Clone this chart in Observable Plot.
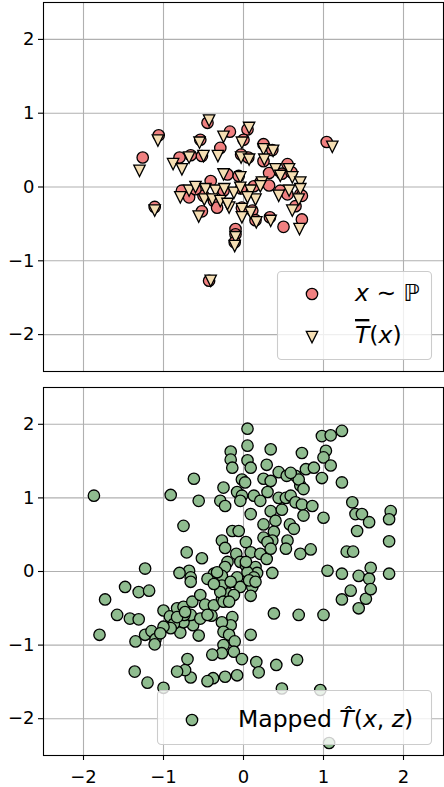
<!DOCTYPE html>
<html><head><meta charset="utf-8">
<script src="https://cdn.jsdelivr.net/npm/d3@7"></script>
<script src="https://cdn.jsdelivr.net/npm/@observablehq/plot@0.6"></script>
<style>
html,body{margin:0;padding:0;background:#fff;}
#wrap{position:relative;width:444px;height:787px;overflow:hidden;background:#fff;}
#wrap > svg{display:block;}
#wrap > svg.panel text{font-size:18px !important;font-family:'DejaVu Sans',sans-serif !important;fill:black;}
#overlay{position:absolute;left:0;top:0;pointer-events:none;}
</style></head><body><div id="wrap"></div>
<script>
// ---- tick values and labels ----
const xTicks = [-2, -1, 0, 1, 2];
const xTickLabels = ["−2", "−1", "0", "1", "2"];
const yTicks = [-2, -1, 0, 1, 2];
const yTickLabels = ["−2", "−1", "0", "1", "2"];

// ---- top panel: samples x ~ P ----
const pX = [-1.26,-1.06,-1.11,-0.45,-0.43,-0.17,-0.54,0.05,0.00,-0.29,
0.25,0.36,-0.52,-0.66,-0.80,-0.03,0.06,0.25,0.32,0.55,
0.48,0.71,-0.20,-0.06,0.21,-0.41,-0.77,-0.68,-0.50,-0.37,
-0.03,0.13,-0.02,0.11,0.15,0.33,0.50,0.73,0.65,0.46,
-0.10,-0.10,-0.11,-0.52,1.04,-0.60,0.60,0.73,-0.25,0.32,
-0.33,0.55];
const pY = [0.40,0.70,-0.27,0.87,-1.27,0.75,0.64,0.78,0.64,0.53,
0.58,0.50,0.42,0.43,0.40,0.44,0.40,0.35,0.19,0.31,
0.18,-0.10,0.17,0.15,0.06,0.08,-0.05,-0.14,-0.12,-0.19,
-0.02,0.01,-0.28,-0.32,-0.45,-0.41,-0.54,-0.44,-0.26,-0.05,
-0.57,-0.64,-0.75,-0.33,0.61,-0.03,0.20,-0.12,-0.05,0.02,
-0.28,-0.10];

// ---- top panel: T-bar(x) ----
const tX = [-1.30,-1.07,-1.11,-0.43,-0.41,-0.25,-0.55,0.07,-0.02,-0.32,
0.25,0.37,-0.50,-0.68,-0.88,-0.77,-0.03,0.07,0.26,0.40,
0.46,0.57,0.61,0.71,0.71,-0.25,-0.04,0.23,-0.79,-0.68,
-0.60,-0.475,-0.35,-0.49,-0.39,-0.29,-0.18,-0.24,-0.12,-0.04,
0.09,0.15,0.05,0.21,0.44,0.57,0.69,0.61,0.70,0.34,
0.16,0.09,-0.02,-0.02,-0.10,-0.11,-0.56,1.11,-0.20];
const tY = [0.22,0.63,-0.32,0.90,-1.27,0.68,0.60,0.80,0.60,0.42,
0.51,0.49,0.42,0.40,0.31,0.24,0.40,0.37,0.37,0.24,
0.15,0.24,0.13,0.06,-0.03,0.17,0.13,0.06,-0.14,-0.05,
0.00,-0.03,-0.05,-0.17,-0.17,-0.19,-0.28,-0.03,-0.08,-0.01,
-0.05,-0.17,-0.14,0.01,-0.12,-0.05,-0.17,-0.32,-0.57,-0.46,
-0.48,-0.35,-0.30,-0.41,-0.68,-0.80,-0.40,0.545,-0.23];

// ---- bottom panel: mapped T-hat(x, z) ----
const mX = [0.05,1.23,0.98,1.09,0.05,-0.16,0.34,0.73,1.03,1.00,
-0.16,0.05,-0.14,0.09,0.29,1.09,-0.62,-0.02,0.02,0.25,
0.44,0.54,0.65,0.78,0.88,0.98,1.23,0.34,0.71,0.69,
0.59,-0.25,-0.08,-0.02,-0.04,-0.29,-0.23,0.13,0.21,0.30,
0.44,0.53,0.59,0.65,0.75,0.73,0.86,0.34,0.48,0.75,
1.00,0.09,-0.56,-0.91,-1.87,1.36,1.40,1.48,1.57,1.42,
1.84,1.82,0.25,0.40,0.58,0.38,0.63,0.25,0.36,0.55,
0.53,0.71,0.84,0.30,-0.14,-0.06,-0.27,-0.23,0.03,-0.09,
0.09,0.21,0.29,-0.20,-0.23,-0.04,0.03,0.15,0.17,0.36,
0.05,0.13,-0.27,-0.12,-0.08,0.11,-0.04,0.09,-0.37,-0.45,
-0.52,-0.71,-0.75,1.82,1.29,1.37,1.05,1.23,1.44,1.59,
1.57,1.82,1.34,1.23,1.53,1.44,1.59,1.00,0.69,0.38,
0.09,-1.23,-1.48,-1.31,-1.18,-1.73,-1.58,-1.42,-1.31,-1.80,
-1.23,-1.15,-1.10,-1.35,-1.11,-1.00,-0.92,-0.83,-0.75,-0.64,
-0.54,-0.48,-0.37,-0.40,-0.27,-0.20,-0.12,-0.27,-0.29,-0.14,
-0.16,-0.27,-0.25,-0.18,-0.11,-0.25,-0.27,-0.39,-0.12,-0.02,
0.16,0.19,0.41,0.67,-0.08,-0.23,-0.38,-0.45,-0.66,-0.73,
-0.70,-0.83,-1.00,-1.36,-1.20,-0.79,-0.63,-0.56,-0.75,-0.87,
-0.91,-1.00,-1.04,-0.66,-0.74,-0.83,0.48,0.96,1.07,-0.54,
-0.45,-0.25,0.07,-0.68,-0.66,-0.33,-0.37,-0.16,0.34,0.03,
0.15,-0.73,-0.18,-0.80,-0.66];
const mY = [1.94,1.91,1.84,1.85,1.71,1.63,1.66,1.61,1.64,1.55,
1.52,1.51,1.41,1.41,1.45,1.44,1.26,1.25,1.21,1.26,
1.35,1.30,1.30,1.39,1.41,1.27,1.21,1.23,1.17,1.25,
1.34,1.14,1.08,1.03,0.96,0.96,0.89,1.03,0.96,1.08,
1.00,1.00,1.03,0.94,1.12,0.91,0.89,0.82,0.84,0.76,
0.73,0.78,0.96,1.04,1.03,0.94,0.78,0.78,0.67,0.55,
0.82,0.71,0.64,0.69,0.64,0.54,0.58,0.46,0.42,0.42,
0.31,0.24,0.30,0.40,0.55,0.55,0.42,0.32,0.40,0.24,
0.26,0.24,0.17,0.13,0.06,0.13,0.08,0.06,-0.02,-0.02,
-0.01,-0.08,-0.06,-0.14,-0.08,-0.21,-0.21,-0.33,-0.03,-0.10,
0.18,0.26,0.62,0.41,0.27,0.27,0.01,-0.03,-0.06,0.05,
-0.10,-0.03,-0.26,-0.38,-0.37,-0.50,-0.24,-0.59,-0.59,-0.57,
-0.86,0.04,-0.21,-0.28,-0.26,-0.38,-0.59,-0.64,-0.65,-0.86,
-0.86,-0.81,-0.92,-0.95,-0.99,-0.53,-0.61,-0.50,-0.48,-0.41,
-0.32,-0.45,-0.46,-0.60,-0.37,-0.30,-0.32,-0.19,-0.28,-0.62,
-0.73,-0.69,-0.82,-0.86,-0.95,-1.00,-1.11,-1.13,-1.09,-1.19,
-1.23,-1.37,-1.27,-1.20,-1.41,-1.43,-1.45,-1.49,-1.44,-1.34,
-1.19,-1.36,-1.58,-1.36,-1.51,-0.83,-0.73,-0.87,-0.69,-0.71,
-0.77,-0.75,-0.84,-0.59,-0.59,-0.62,-1.59,-1.61,-2.33,-0.64,
-0.59,-0.41,-0.12,0.01,-0.08,-0.01,-0.17,-0.14,0.31,0.13,
-0.14,-0.55,-0.41,-0.02,-0.14];

// ---- build tables ----
const samples = pX.map((x, i) => ({x, y: pY[i]}));
const tbar = tX.map((x, i) => ({x, y: tY[i]}));
const mapped = mX.map((x, i) => ({x, y: mY[i]}));

const C_RED = "#F08080", C_WHEAT = "#F5DEB3", C_GREEN = "#8FBC8F";

const triangleDown = {
  draw(context, size) {
    const r = Math.sqrt(size / Math.PI);
    const w = r * 0.95, h = r * 0.95;
    context.moveTo(-w, -h);
    context.lineTo(w, -h);
    context.lineTo(0, h);
    context.closePath();
  }
};

const fmtX = d => xTickLabels[xTicks.indexOf(d)];
const fmtY = d => yTickLabels[yTicks.indexOf(d)];
const gridStyle = {stroke: "#b0b0b0", strokeOpacity: 1, strokeWidth: 1.1};
const baseStyle = {fontFamily: "'DejaVu Sans', sans-serif", fontSize: "18px", color: "black", background: "white", overflow: "visible"};

const topPlot = Plot.plot({
  width: 444, height: 379,
  marginLeft: 43, marginRight: 1, marginTop: 2, marginBottom: 8,
  x: {domain: [-2.5, 2.5], axis: null, label: null},
  y: {domain: [-2.5, 2.5], label: null},
  style: baseStyle,
  marks: [
    Plot.gridX(xTicks, gridStyle),
    Plot.gridY(yTicks, gridStyle),
    Plot.axisY(yTicks, {tickSize: 5, tickPadding: 4, tickFormat: fmtY, label: null, strokeWidth: 1.1, fontSize: 18, fill: "black"}),
    Plot.dot(samples, {x: "x", y: "y", r: 5.7, fill: C_RED, stroke: "black", strokeWidth: 1.3, clip: true}),
    Plot.dot(tbar, {x: "x", y: "y", r: 6, symbol: triangleDown, fill: C_WHEAT, stroke: "black", strokeWidth: 1.3, clip: true}),
    Plot.frame({stroke: "black", strokeWidth: 1.1})
  ]
});

const bottomPlot = Plot.plot({
  width: 444, height: 408,
  marginLeft: 43, marginRight: 1, marginTop: 8, marginBottom: 32,
  x: {domain: [-2.5, 2.5], label: null},
  y: {domain: [-2.5, 2.5], label: null},
  style: baseStyle,
  marks: [
    Plot.gridX(xTicks, gridStyle),
    Plot.gridY(yTicks, gridStyle),
    Plot.axisY(yTicks, {tickSize: 5, tickPadding: 4, tickFormat: fmtY, label: null, strokeWidth: 1.1, fontSize: 18, fill: "black"}),
    Plot.axisX(xTicks, {tickSize: 5, tickPadding: 10, tickFormat: fmtX, label: null, strokeWidth: 1.1, fontSize: 18, fill: "black"}),
    Plot.dot(mapped, {x: "x", y: "y", r: 5.7, fill: C_GREEN, stroke: "black", strokeWidth: 1.3, clip: true}),
    Plot.frame({stroke: "black", strokeWidth: 1.1})
  ]
});

topPlot.classList.add("panel");
bottomPlot.classList.add("panel");
const wrap = document.getElementById("wrap");
wrap.append(topPlot, bottomPlot);

// ---- legends (overlaid inside the panels) ----
const NS = "http://www.w3.org/2000/svg";
const ov = document.createElementNS(NS, "svg");
ov.setAttribute("id", "overlay");
ov.setAttribute("width", 444);
ov.setAttribute("height", 787);
ov.innerHTML = `
<g font-family="'DejaVu Sans', sans-serif" font-size="23.5px" fill="black">
  <rect x="277.5" y="271.5" width="154" height="88" rx="4" fill="white" fill-opacity="0.8" stroke="#cccccc" stroke-width="1.1"/>
  <circle cx="312" cy="294" r="5.7" fill="${C_RED}" stroke="black" stroke-width="1.3"/>
  <path d="M306.3,331.3L317.7,331.3L312,342.7Z" fill="${C_WHEAT}" stroke="black" stroke-width="1.3"/>
  <text x="355" y="301"><tspan font-style="italic">x</tspan> ∼ <tspan fill="black">ℙ</tspan></text>
  <text x="355" y="343"><tspan font-style="italic" style="text-decoration:overline">T</tspan>(<tspan font-style="italic">x</tspan>)</text>
  <rect x="157.5" y="690.5" width="274" height="54" rx="4" fill="white" fill-opacity="0.8" stroke="#cccccc" stroke-width="1.1"/>
  <circle cx="192" cy="720" r="5.7" fill="${C_GREEN}" stroke="black" stroke-width="1.3"/>
  <text x="238" y="727">Mapped <tspan font-style="italic">T\u0302</tspan>(<tspan font-style="italic">x</tspan>, <tspan font-style="italic">z</tspan>)</text>
</g>`;
wrap.append(ov);
</script>
</body></html>
